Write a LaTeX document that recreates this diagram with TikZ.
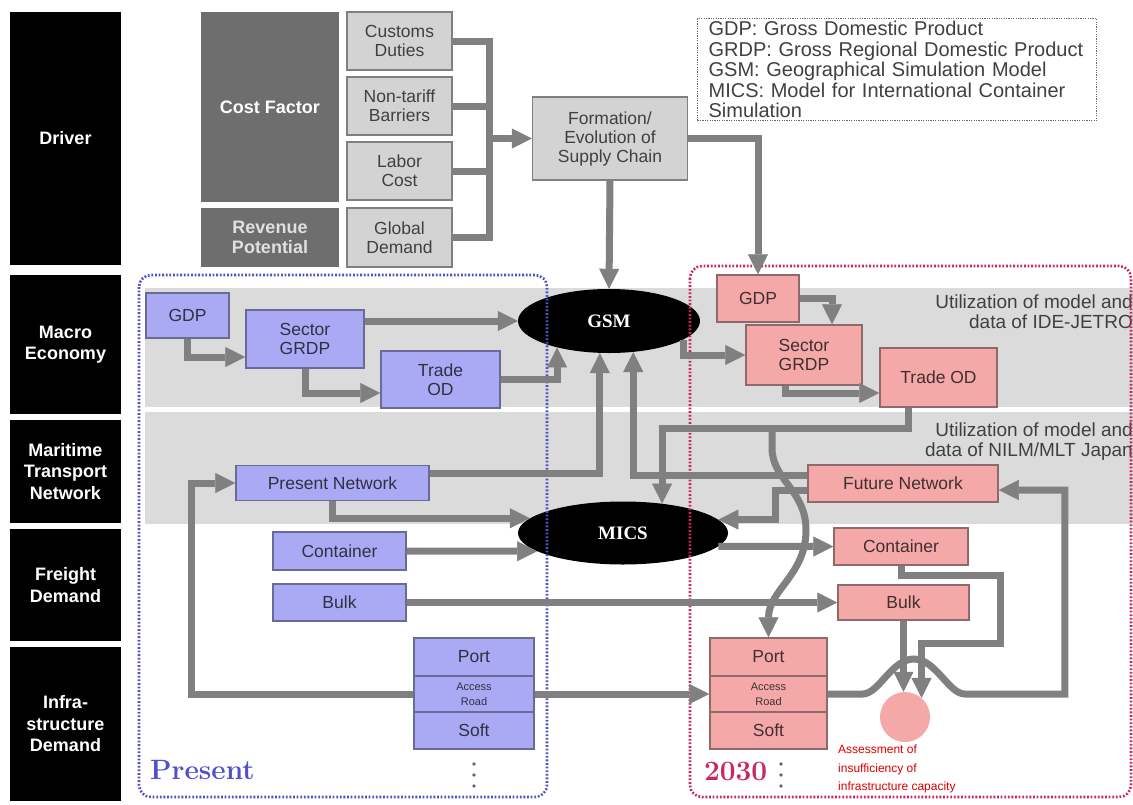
\documentclass[tikz,border=0pt]{standalone}
\usepackage{fontspec}
\setsansfont{Liberation Sans}
\newfontfamily\modelfont{Liberation Serif}
\usetikzlibrary{arrows.meta,shapes.geometric}
\definecolor{flowgray}{HTML}{808080}
\definecolor{boxgray}{HTML}{D3D3D3}
\definecolor{darkbox}{HTML}{6E6E6E}
\definecolor{bandgray}{HTML}{DBDBDB}
\definecolor{nowblue}{HTML}{AAAAF4}
\definecolor{nowedge}{HTML}{6A6A96}
\definecolor{futred}{HTML}{F5A8A8}
\definecolor{futedge}{HTML}{8E6A6A}
\definecolor{dotblue}{HTML}{5050C8}
\definecolor{dotred}{HTML}{C8285A}
\begin{document}
\begin{tikzpicture}[x=1pt, y=-1pt,
	rowlabel/.style={fill=black, text=white, align=center, inner sep=0pt, minimum width=111pt,
		font=\sffamily\bfseries\fontsize{18}{21.5}\selectfont},
	factor/.style={fill=darkbox, align=center, inner sep=0pt, minimum width=138pt,
		font=\sffamily\bfseries\fontsize{18}{20}\selectfont},
	item/.style={fill=boxgray, draw=black!50, line width=1.5pt, text=black!75, align=center,
		inner sep=0pt, font=\sffamily\fontsize{17.5}{19}\selectfont},
	now/.style={item, fill=nowblue, draw=nowedge, text=nowedge!45!black},
	fut/.style={item, fill=futred, draw=futedge, text=futedge!45!black},
	model/.style={ellipse, fill=black, text=white, inner sep=0pt,
		font=\modelfont\bfseries\fontsize{19}{21}\selectfont},
	flow/.style={draw=flowgray, line width=7pt},
	arr/.style={flow, -{Triangle[length=20pt, width=20pt, line width=0.5pt]}},
	note/.style={text=black!75, align=right, inner sep=0pt, font=\sffamily\fontsize{19}{20}\selectfont}]
	\useasboundingbox (0,0) rectangle (1133,804);
	% bands of the two model rows
	\fill[bandgray] (145,288) rectangle (1133,407);
	\fill[bandgray] (145,412) rectangle (1133,524);

	\node[rowlabel, minimum height=253pt] (driver) at (65.5,138.5) {Driver};
	\node[rowlabel, minimum height=139pt] (macro) at (65.5,344.5) {Macro\\Economy};
	\node[rowlabel, minimum height=103pt] (marit) at (65.5,471.5) {Maritime\\Transport\\Network};
	\node[rowlabel, minimum height=112pt] (freight) at (65.5,585) {Freight\\Demand};
	\node[rowlabel, minimum height=154pt] (infra) at (65.5,724) {Infra-\\structure\\Demand};

	\node[factor, text=white, minimum height=190pt] (cost) at (270,107) {Cost Factor};
	\node[factor, text=black!12, minimum height=59pt] (revenue) at (270,237.5) {Revenue\\Potential};
	\node[item, minimum width=105pt, minimum height=58pt] (customs) at (399.5,41) {Customs\\Duties};
	\node[item, minimum width=105pt, minimum height=58pt] (nontariff) at (399.5,106) {Non-tariff\\Barriers};
	\node[item, minimum width=105pt, minimum height=58pt] (labor) at (399.5,171) {Labor\\Cost};
	\node[item, minimum width=105pt, minimum height=59pt] (global) at (399.5,237.5) {Global\\Demand};
	\node[item, minimum width=155pt, minimum height=83pt] (form) at (610,138.5) {Formation/\\Evolution of\\Supply Chain};
	\coordinate (fork) at (489,138.5);

	\node[draw=black!60, dash pattern=on 1.2pt off 1.2pt, line width=1.2pt, anchor=north west,
		text width=377pt, minimum height=102pt, inner xsep=11pt, inner ysep=0pt, align=left,
		text=black!75, font=\sffamily\fontsize{20}{20.6}\selectfont] (legend) at (697,18)
		{GDP: Gross Domestic Product\\GRDP: Gross Regional Domestic Product\\GSM: Geographical Simulation Model\\MICS: Model for International Container\\Simulation};

	% present
	\node[now, minimum width=83pt, minimum height=45pt] (bgdp) at (187.5,315.5) {GDP};
	\node[now, minimum width=118pt, minimum height=58pt] (bsgrdp) at (305,339) {Sector\\GRDP};
	\node[now, minimum width=119pt, minimum height=57pt] (btod) at (440.5,379.5) {Trade\\OD};
	\node[now, minimum width=193pt, minimum height=35pt] (bpnet) at (332.5,483) {Present Network};
	\node[now, minimum width=133pt, minimum height=38pt] (bcont) at (339.5,551) {Container};
	\node[now, minimum width=133pt, minimum height=37pt] (bbulk) at (339.5,602.5) {Bulk};
	\node[now, minimum width=120pt, minimum height=38pt] (bport) at (474,657) {Port};
	\node[now, minimum width=120pt, minimum height=36pt, font=\sffamily\fontsize{11}{15}\selectfont] (baccess) at (474,694) {Access\\Road};
	\node[now, minimum width=120pt, minimum height=37pt] (bsoft) at (474,730.5) {Soft};

	% 2030
	\node[fut, minimum width=82pt, minimum height=47pt] (rgdp) at (758,298.5) {GDP};
	\node[fut, minimum width=116pt, minimum height=60pt] (rsgrdp) at (804,355) {Sector\\GRDP};
	\node[fut, minimum width=117pt, minimum height=59pt] (rtod) at (938.5,377.5) {Trade OD};
	\node[fut, minimum width=190pt, minimum height=37pt] (rfnet) at (903,483.5) {Future Network};
	\node[fut, minimum width=134pt, minimum height=37pt] (rcont) at (901,546.5) {Container};
	\node[fut, minimum width=131pt, minimum height=35pt] (rbulk) at (903.5,602.5) {Bulk};
	\node[fut, minimum width=117pt, minimum height=38pt] (rport) at (768.5,657) {Port};
	\node[fut, minimum width=117pt, minimum height=36pt, font=\sffamily\fontsize{11}{15}\selectfont] (raccess) at (768.5,694) {Access\\Road};
	\node[fut, minimum width=117pt, minimum height=37pt] (rsoft) at (768.5,730.5) {Soft};
	\node[circle, fill=futred, minimum size=50pt, inner sep=0pt] (assess) at (905,717) {};
	\coordinate (split) at (772,428);

	\node[model, minimum width=182pt, minimum height=64pt] (gsm) at (609,321) {GSM};
	\node[model, minimum width=210pt, minimum height=63pt] (mics) at (623,533) {MICS};

	\node[note, anchor=east] (ide) at (1133,312) {Utilization of model and\\data of IDE-JETRO};
	\node[note, anchor=east] (nilm) at (1133,442) {Utilization of model and\\data of NILM/MLT Japan};
	\node[anchor=base west, inner sep=0pt, text=dotblue, font=\bfseries\fontsize{28}{30}\selectfont] (present) at (150,779) {Present};
	\node[anchor=base west, inner sep=0pt, text=dotred, font=\bfseries\fontsize{28}{30}\selectfont] (year) at (704,780) {2030};
	\node[anchor=north west, inner sep=0pt, align=left, text=red!85!black,
		font=\sffamily\fontsize{12}{18.5}\selectfont] (assesstxt) at (838,745)
		{Assessment of\\insufficiency of\\infrastructure capacity};
	\foreach \y in {764,775,786} \fill[black!60] (474,\y) circle (1.8pt) (781,\y) circle (1.8pt);

	\draw[dotblue, line width=2.6pt, dash pattern=on 1.8pt off 1.8pt, rounded corners=12pt] (139,275) rectangle (547,797);
	\draw[dotred, line width=2.6pt, dash pattern=on 1.8pt off 1.8pt, rounded corners=12pt] (690,266) rectangle (1131,797);

	% drivers
	\draw[flow] (customs.east) -- (customs.east -| fork) -- (global.east -| fork) -- (global.east);
	\foreach \n in {nontariff, labor} \draw[flow] (\n.east) -- (\n.east -| fork);
	\draw[arr] (fork) -- (form.west);
	\draw[arr] (form.south) -- (gsm.north);
	\draw[arr] (form.east) -| (rgdp.north);

	% macro economy
	\draw[arr] (bgdp.south) |- ([yshift=-18pt]bsgrdp.west);
	\draw[arr] (bsgrdp.east |- gsm.west) -- (gsm.west);
	\draw[arr] (bsgrdp.south) |- ([yshift=-13.5pt]btod.west);
	\draw[arr] (btod.east) -| (gsm.207);
	\draw[arr] (gsm.-14) |- (rsgrdp.west);
	\draw[arr] (rgdp.east) -| ([xshift=28pt]rsgrdp.north);
	\draw[arr] ([xshift=-19pt]rsgrdp.south) |- ([yshift=-15.5pt]rtod.west);
	\draw[arr] ([xshift=-30pt]rtod.south) |- (split) -| (mics.37);
	\draw[arr] (split) -- ++(0,20) .. controls (772,480) and (806,490) .. (806,530)
		.. controls (806,575) and (768.5,590) .. (rport.north);

	% networks
	\draw[arr] ([yshift=9.5pt]bpnet.east) -| (gsm.254);
	\draw[arr] ([yshift=8.5pt]rfnet.west) -| (gsm.308);
	\draw[arr] (bpnet.south) |- (mics.171);
	\draw[arr] ([yshift=-6.5pt]rfnet.west) -- ++(-32,0) |- (mics.8);

	% freight
	\draw[arr] (bcont.east) -- (mics.192);
	\draw[arr] (mics.352) -- (rcont.west);
	\draw[arr] (bbulk.east) -- (rbulk.west);
	\draw[arr] (rcont.south) -- ++(0,10) -- ++(99,0) -- ++(0,68) -| (assess.49);
	\draw[arr] (rbulk.south) -- (rbulk.south |- assess.north);

	% infrastructure
	\draw[arr] (baccess.east) -- (raccess.west);
	\draw[arr] (baccess.west) -- ++(-222,0) |- (bpnet.west);
	\draw[arr] (raccess.east) -- ++(35,0) .. controls +(16,0) and +(-22,0) .. ++(51,-35)
		.. controls +(22,0) and +(-16,0) .. ++(51,35) -- ++(100,0) |- ([yshift=-6.5pt]rfnet.east);
\end{tikzpicture}
\end{document}
